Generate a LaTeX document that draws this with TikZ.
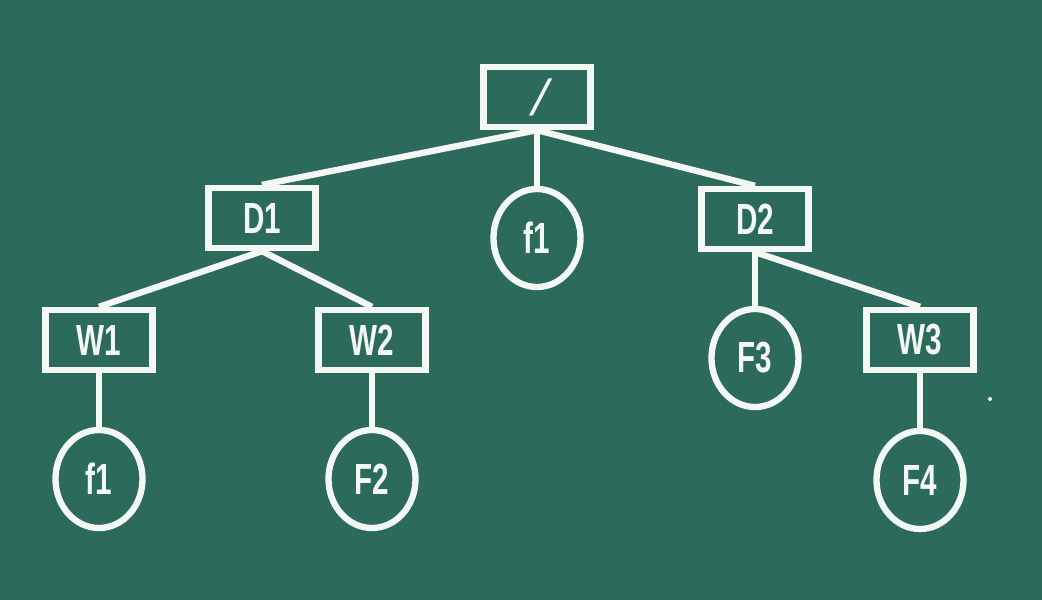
\documentclass[tikz,border=0pt]{standalone}
\usepackage{fontspec}
\usepackage{tikz}
\usetikzlibrary{shapes.geometric,positioning}
\newfontfamily\chalkfont[FakeStretch=0.68]{Liberation Sans}
\newfontfamily\slashfont[FakeSlant=0.25]{Liberation Sans}
\definecolor{Board}{HTML}{2C6A5B}
\definecolor{Chalk}{HTML}{F4F8F4}

\begin{document}
\begin{tikzpicture}[
  x=0.025cm,y=-0.025cm,
  line width=4.5pt,
  dirbox/.style={draw=Chalk,rectangle,inner sep=0pt,minimum width=2.675cm,minimum height=1.5cm,text=Chalk,font=\chalkfont\bfseries\fontsize{31}{32}\selectfont},
  filenode/.style={draw=Chalk,ellipse,inner sep=0pt,minimum width=2.175cm,minimum height=2.45cm,text=Chalk,font=\chalkfont\bfseries\fontsize{31}{32}\selectfont},
  link/.style={draw=Chalk,line width=4.5pt}
]
\fill[Board] (0,0) rectangle (1042,600);

\node[dirbox,font=\slashfont\fontsize{36}{36}\selectfont] (root) at (537,97) {/};
\node[dirbox] (d1) at (262,218) {D1};
\node[filenode] (rootf1) at (537,238) {f1};
\node[dirbox] (d2) at (755,219) {D2};
\node[dirbox] (w1) at (99,340) {W1};
\node[dirbox] (w2) at (372,340) {W2};
\node[filenode] (f3) at (755,358) {F3};
\node[dirbox] (w3) at (920,340) {W3};
\node[filenode] (w1f1) at (99,479) {f1};
\node[filenode] (f2) at (372,479) {F2};
\node[filenode] (f4) at (920,480) {F4};

\draw[link] (root.south)--(d1.north);
\draw[link] (root.south)--(rootf1.north);
\draw[link] (root.south)--(d2.north);
\draw[link] (d1.south)--(w1.north);
\draw[link] (d1.south)--(w2.north);
\draw[link] (d2.south)--(f3.north);
\draw[link] (d2.south)--(w3.north);
\draw[link] (w1.south)--(w1f1.north);
\draw[link] (w2.south)--(f2.north);
\draw[link] (w3.south)--(f4.north);

% speck of chalk
\fill[Chalk] (990,399) circle (2);
\end{tikzpicture}
\end{document}
